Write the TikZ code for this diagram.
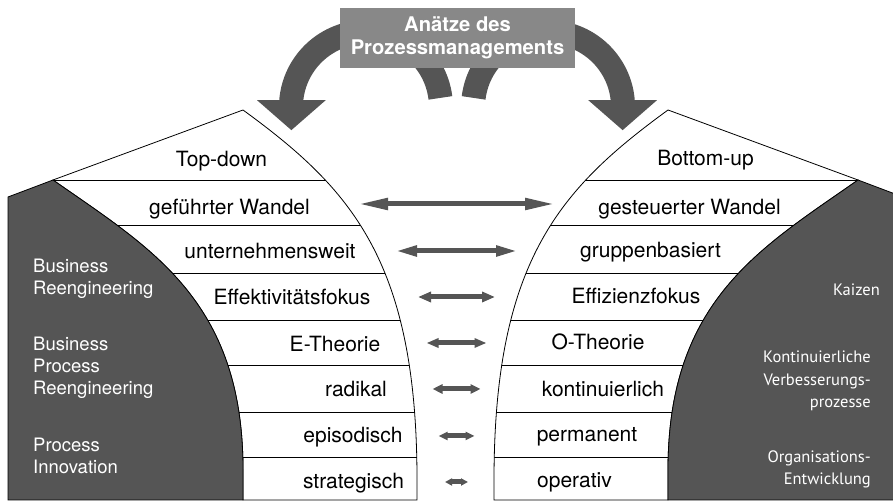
\documentclass[tikz,border=0pt]{standalone}
\usepackage{fontspec}
\setmainfont{TeX Gyre Heros}
\newfontfamily\humansans{PT Sans}
\usetikzlibrary{arrows.meta}

\definecolor{fundark}{HTML}{555555}
\definecolor{boxgray}{HTML}{888888}

% one half of the funnel (left side), mirrored for the right side
\newcommand{\halfwhite}{(53,322) -- (243,392) .. controls (350,314) and (417,242) .. (417,22) -- (417,2) -- (243,2) -- (243,32) .. controls (243,202) and (150,254) .. (53,322) -- cycle}
\newcommand{\halfdark}{(8,305) -- (53,322) .. controls (150,254) and (243,202) .. (243,32) -- (243,2) -- (8,2) -- cycle}

\tikzset{
  outline/.style={draw=black,line width=0.8pt},
  bandtext/.style={font=\fontsize{21}{25}\selectfont,anchor=base,inner sep=0pt},
  methodL/.style={font=\fontsize{18.5}{22}\selectfont,text=white,align=left,anchor=base west,inner sep=0pt},
  methodR/.style={font=\humansans\fontsize{16.5}{22.5}\selectfont,text=white,align=right,anchor=base east,inner sep=0pt},
  pairarrow/.style={line width=5pt,fundark},
  bigarrow/.style={line width=24pt,fundark,-{Triangle[length=30pt,width=67pt]}}
}

\begin{document}
\begin{tikzpicture}[x=1pt,y=1pt]
  \useasboundingbox (0,0) rectangle (893,502);
  \clip (0,0) rectangle (893,502);

  % curved arrows from the top box
  \coordinate (tailL) at (440.4,404.1);
  \coordinate (tailR) at (473.6,404.1);
  \draw[bigarrow] (tailL) arc[start angle=7,end angle=174,radius=75pt] -- ++(0,-31);
  \draw[bigarrow] (tailR) arc[start angle=173,end angle=6,radius=75pt] -- ++(0,-31);

  % top box
  \node[fill=boxgray,minimum width=235pt,minimum height=60pt,inner sep=0pt,
        text=white,font=\bfseries\fontsize{20.2}{23.3}\selectfont,align=center]
        (ansatz) at (457.5,464) {Anätze des\\Prozessmanagements};

  % both halves of the funnel
  \foreach \sx/\sc in {0pt/1,911pt/-1} {
    \begin{scope}[xshift=\sx,xscale=\sc]
      \fill[white] \halfwhite;
      \begin{scope}
        \clip \halfwhite;
        \foreach \y in {322,277,229,182,137,90,45}
          \draw[line width=0.8pt] (0,\y) -- (460,\y);
      \end{scope}
      \draw[outline] \halfwhite;
      \draw[outline,fill=fundark] \halfdark;
    \end{scope}
  }

  % left column
  \node[bandtext] (tl1) at (221.5,335) {Top-down};
  \node[bandtext] (tl2) at (229.5,287) {geführter Wandel};
  \node[bandtext] (tl3) at (270,243) {unternehmensweit};
  \node[bandtext] (tl4) at (292,197) {Effektivitätsfokus};
  \node[bandtext] (tl5) at (335,150) {E-Theorie};
  \node[bandtext] (tl6) at (356,105) {radikal};
  \node[bandtext] (tl7) at (353,59) {episodisch};
  \node[bandtext] (tl8) at (353.5,13) {strategisch};

  % right column
  \node[bandtext] (tr1) at (705.5,336) {Bottom-up};
  \node[bandtext] (tr2) at (689.5,287) {gesteuerter Wandel};
  \node[bandtext] (tr3) at (650.5,244) {gruppenbasiert};
  \node[bandtext] (tr4) at (636,198) {Effizienzfokus};
  \node[bandtext] (tr5) at (598,152) {O-Theorie};
  \node[bandtext] (tr6) at (603,105) {kontinuierlich};
  \node[bandtext] (tr7) at (587,60) {permanent};
  \node[bandtext] (tr8) at (574.5,14) {operativ};

  % methods in the dark areas (base = last line)
  \node[methodL] (bre) at (33,207) {Business\\Reengineering};
  \node[methodL] (bpr) at (33,107) {Business\\Process\\Reengineering};
  \node[methodL] (pin) at (33,28) {Process\\Innovation};
  \node[methodR] (kai) at (880,206) {Kaizen};
  \node[methodR] (kvp) at (871,94) {Kontinuierliche\\Verbesserungs-\\prozesse};
  \node[methodR] (oen) at (871,17) {Organisations-\\Entwicklung};

  % double arrows between the columns
  \foreach \y/\hl/\tl/\tw [count=\i] in {298/98.5/30/11,251/61.5/22/10,205/38.5/13/10,159/30/12/9,113/24/10/9,66/18/9/8,20/11.5/7/7} {
    \coordinate (pl\i) at (456.5-\hl,\y);
    \coordinate (pr\i) at (456.5+\hl,\y);
    \draw[pairarrow,{Triangle[length=\tl pt,width=\tw pt]}-{Triangle[length=\tl pt,width=\tw pt]}] (pl\i) -- (pr\i);
  }

\end{tikzpicture}
\end{document}
